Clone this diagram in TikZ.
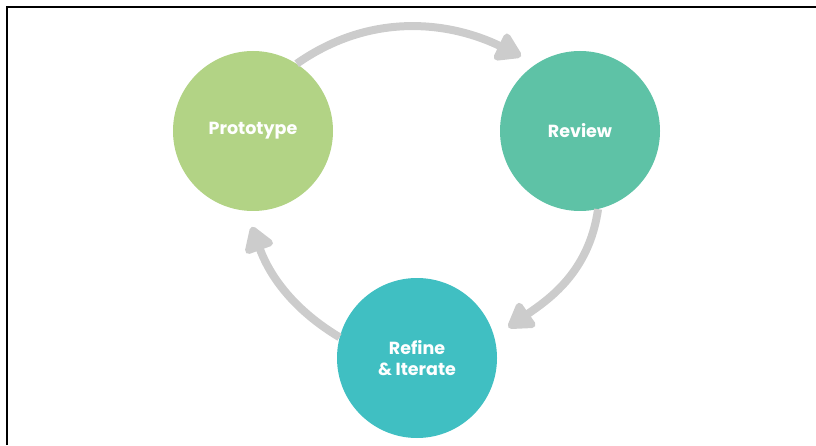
\documentclass[tikz,border=0pt]{standalone}
\usepackage{fontspec}
\setmainfont{Poppins}
\usetikzlibrary{arrows.meta}
\definecolor{protoc}{HTML}{B2D385}
\definecolor{revc}{HTML}{5EC2A6}
\definecolor{refc}{HTML}{40BFC2}
\definecolor{arrc}{HTML}{CCCCCC}
\tikzset{
  stage/.style={circle, inner sep=0pt, minimum size=160pt, text=white,
    font=\fontsize{17.5}{21}\selectfont\bfseries, align=center},
  cycarrow/.style={draw=arrc, line width=8pt,
    -{Triangle[length=28pt,width=33pt,round]}, shorten >=17pt}
}
\begin{document}
\begin{tikzpicture}[x=1pt,y=1pt]
\useasboundingbox (0,0) rectangle (816,445);
\draw[line width=2.5pt] (7,0) -- (7,438) -- (816,438);
\node[stage, fill=protoc] (proto) at (253,314) {Prototype};
\node[stage, fill=revc] (rev) at (580,314) {Review};
\node[stage, fill=refc] (ref) at (417,87) {Refine\\\& Iterate};
\draw[cycarrow] (proto.57) to[out=35,in=154] (rev.123);
\draw[cycarrow] (rev.-77) to[out=-98,in=35] (ref.15);
\draw[cycarrow] (ref.165) to[out=149,in=-70] (proto.265);
\end{tikzpicture}
\end{document}
